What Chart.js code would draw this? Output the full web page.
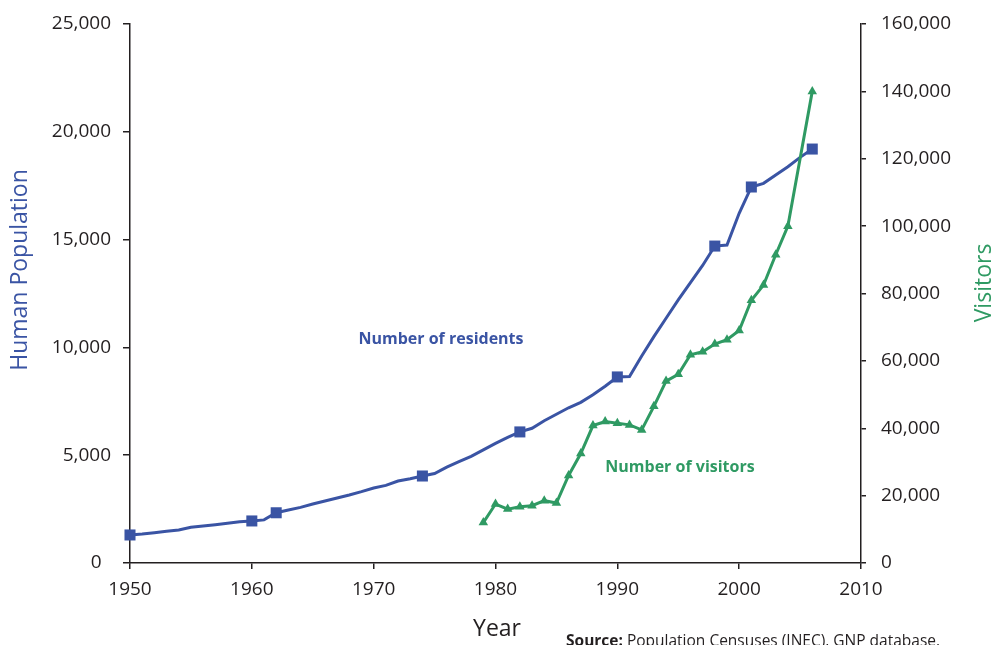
<!DOCTYPE html>
<html>
<head>
<meta charset="utf-8">
<script src="https://cdn.jsdelivr.net/npm/chart.js@4.4.1/dist/chart.umd.min.js"></script>
<style>
  html, body { margin: 0; padding: 0; background: #fff; }
</style>
</head>
<body>
<canvas id="popChart" width="995" height="645"></canvas>
<script>
// residents (markers only at census years)
const residentYears = [1950, 1951, 1952, 1953, 1954, 1955, 1956, 1957, 1958, 1959,
  1960, 1961, 1962, 1963, 1964, 1965, 1966, 1967, 1968, 1969,
  1970, 1971, 1972, 1973, 1974, 1975, 1976, 1977, 1978, 1979,
  1980, 1981, 1982, 1983, 1984, 1985, 1986, 1987, 1988, 1989,
  1990, 1991, 1992, 1993, 1994, 1995, 1996, 1997, 1998, 1999,
  2000, 2001, 2002, 2003, 2004, 2005, 2006];
const residents = [1300, 1345, 1405, 1470, 1530, 1655, 1715, 1777, 1840, 1915,
  1950, 2000, 2330, 2460, 2580, 2735, 2875, 3015, 3155, 3310,
  3480, 3600, 3800, 3910, 4035, 4150, 4450, 4700, 4950, 5250,
  5550, 5830, 6080, 6250, 6600, 6900, 7200, 7450, 7800, 8200,
  8630, 8650, 9600, 10500, 11350, 12200, 13000, 13800, 14700, 14750,
  16220, 17440, 17610, 18000, 18380, 18815, 19200];
const censusYears = [1950, 1960, 1962, 1974, 1982, 1990, 1998, 2001, 2006];

// visitors per year (no value for 2005)
const visitorYears = [1979, 1980, 1981, 1982, 1983, 1984, 1985, 1986, 1987, 1988,
  1989, 1990, 1991, 1992, 1993, 1994, 1995, 1996, 1997, 1998,
  1999, 2000, 2001, 2002, 2003, 2004, 2005, 2006];
const visitors = [12000, 17500, 16000, 16700, 17000, 18500, 17800, 26000, 32500, 40800,
  42000, 41500, 41000, 39500, 46500, 54000, 56000, 61800, 62700, 65000,
  66300, 69000, 78000, 82500, 91500, 100000, null, 140000];

const yearTicks = [1950, 1960, 1970, 1980, 1990, 2000, 2010];

const blue = "#3a54a4";
const green = "#2f9a63";
const ink = "#231f20";
const fontFam = "'Open Sans', 'Noto Sans', sans-serif";

let residentPoints = residentYears.map((y, i) => ({ x: y, y: residents[i] }));
let visitorPoints = visitorYears.map((y, i) => ({ x: y, y: visitors[i] }));
let residentRadius = residentYears.map(y => censusYears.includes(y) ? 7.8 : 0);

// texts that sit outside the library's own elements
const labelPlugin = {
    id: "labels",
    afterDraw(chart) {
        let ctx = chart.ctx;
        ctx.save();
        ctx.textBaseline = "middle";

        ctx.fillStyle = blue;
        ctx.font = "bold 16px " + fontFam;
        ctx.textAlign = "center";
        ctx.fillText("Number of residents", 441, 339);

        ctx.fillStyle = green;
        ctx.fillText("Number of visitors", 680, 467);

        ctx.font = "23px " + fontFam;
        ctx.fillStyle = blue;
        ctx.save();
        ctx.translate(20, 270);
        ctx.rotate(-Math.PI / 2);
        ctx.fillText("Human Population", 0, 0);
        ctx.restore();

        ctx.fillStyle = green;
        ctx.save();
        ctx.translate(984, 283);
        ctx.rotate(-Math.PI / 2);
        ctx.fillText("Visitors", 0, 0);
        ctx.restore();

        ctx.fillStyle = ink;
        ctx.fillText("Year", 497, 629);

        ctx.textAlign = "left";
        ctx.textBaseline = "alphabetic";
        ctx.font = "bold 15.5px " + fontFam;
        ctx.fillText("Source:", 566, 646);
        let w = ctx.measureText("Source: ").width;
        ctx.font = "15.5px " + fontFam;
        ctx.fillText("Population Censuses (INEC), GNP database.", 566 + w, 646);
        ctx.restore();
    }
};

new Chart(document.getElementById("popChart"), {
    type: "line",
    data: {
        datasets: [
            {
                label: "Number of visitors",
                data: visitorPoints,
                yAxisID: "yVisitors",
                borderColor: green,
                backgroundColor: green,
                borderWidth: 3,
                pointStyle: "triangle",
                pointRadius: 5.5,
                pointBorderWidth: 0,
                spanGaps: true,
                tension: 0,
                clip: false,
                order: 0
            },
            {
                label: "Number of residents",
                data: residentPoints,
                yAxisID: "yPop",
                borderColor: blue,
                backgroundColor: blue,
                borderWidth: 3,
                pointStyle: "rect",
                pointRadius: residentRadius,
                pointBorderWidth: 0,
                tension: 0,
                clip: false,
                order: 1
            }
        ]
    },
    options: {
        responsive: false,
        animation: false,
        locale: "en-US",
        layout: { padding: { top: 24, left: 0, right: 0, bottom: 0 } },
        plugins: {
            legend: { display: false },
            tooltip: { enabled: false }
        },
        scales: {
            x: {
                type: "linear",
                min: 1950,
                max: 2010,
                afterBuildTicks: axis => { axis.ticks = yearTicks.map(v => ({ value: v })); },
                afterFit: axis => { axis.height = 82; },
                ticks: {
                    color: ink,
                    font: { family: fontFam, size: 19 },
                    padding: 9,
                    maxRotation: 0,
                    callback: v => String(v)
                },
                grid: { drawOnChartArea: false, color: ink, tickLength: 6, lineWidth: 1.5 },
                border: { color: ink, width: 1.5 }
            },
            yPop: {
                position: "left",
                min: 0,
                max: 25000,
                afterFit: axis => { axis.width = 130; },
                ticks: {
                    stepSize: 5000,
                    color: ink,
                    font: { family: fontFam, size: 19, lineHeight: 0.9 },
                    padding: 12,
                    callback: v => v === 0 ? "0\u2002" : v.toLocaleString("en-US")
                },
                grid: { drawOnChartArea: false, color: ink, tickLength: 7, lineWidth: 1.5 },
                border: { color: ink, width: 1.5 }
            },
            yVisitors: {
                position: "right",
                min: 0,
                max: 160000,
                afterFit: axis => { axis.width = 134; },
                ticks: {
                    stepSize: 20000,
                    color: ink,
                    font: { family: fontFam, size: 19, lineHeight: 0.9 },
                    padding: 15
                },
                grid: { drawOnChartArea: false, color: ink, tickLength: 5, lineWidth: 1.5 },
                border: { color: ink, width: 1.5 }
            }
        }
    },
    plugins: [labelPlugin]
});
</script>
</body>
</html>
